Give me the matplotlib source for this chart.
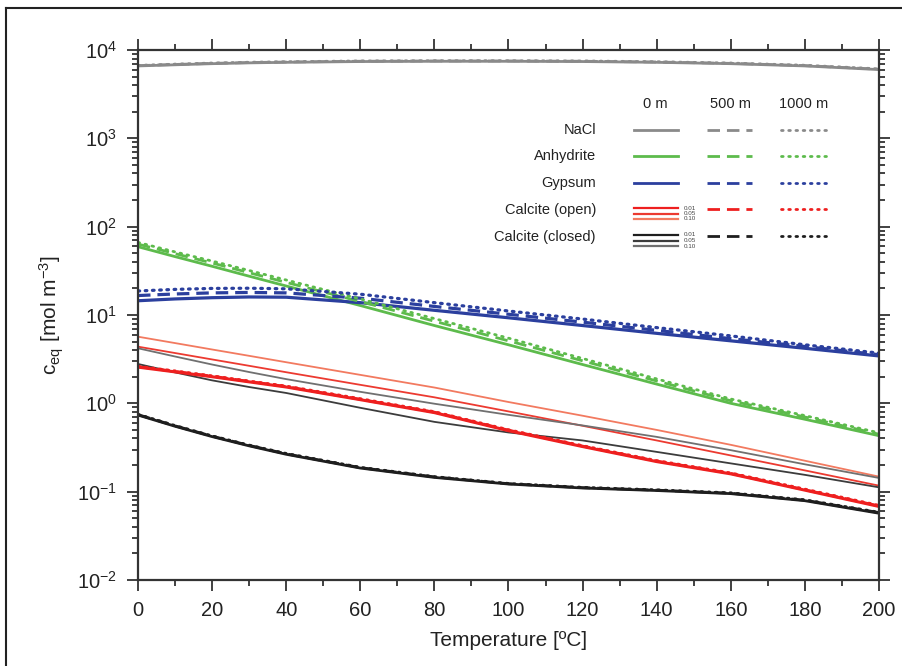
import math

import matplotlib
matplotlib.use("Agg")
import matplotlib.pyplot as plt
from matplotlib.lines import Line2D
from matplotlib.ticker import FixedLocator, FuncFormatter, NullFormatter

plt.rcParams['font.family'] = ['Liberation Sans', 'DejaVu Sans']
plt.rcParams['mathtext.fontset'] = 'custom'
plt.rcParams['mathtext.rm'] = 'Liberation Sans'
plt.rcParams['mathtext.it'] = 'Liberation Sans:italic'
plt.rcParams['lines.scale_dashes'] = False

# temperature grid [deg C]
T = [0, 10, 20, 30, 40, 60, 80, 100, 120, 140, 160, 180, 200]

# equilibrium concentrations [mol m^-3], 0 m / 500 m / 1000 m
nacl_0 = [6600, 6800, 7000, 7150, 7250, 7400, 7450, 7450, 7400, 7250, 7000, 6600, 6000]
nacl_500 = [6650, 6860, 7060, 7210, 7310, 7460, 7510, 7510, 7460, 7310, 7060, 6660, 6060]
nacl_1000 = [6700, 6920, 7120, 7270, 7370, 7520, 7570, 7570, 7520, 7370, 7120, 6720, 6120]

anhy_0 = [59.3, 45.8, 35.6, 27.5, 21.3, 12.8, 7.6, 4.6, 2.75, 1.65, 1.0, 0.66, 0.43]
anhy_500 = [63.5, 49.5, 38.8, 30.1, 23.4, 14.2, 8.5, 5.1, 3.03, 1.79, 1.07, 0.70, 0.447]
anhy_1000 = [66.4, 51.8, 40.8, 31.9, 24.9, 15.2, 9.1, 5.47, 3.22, 1.89, 1.12, 0.726, 0.464]

gyps_0 = [14.5, 15.2, 15.7, 16.0, 15.9, 13.8, 11.3, 9.3, 7.6, 6.2, 5.1, 4.2, 3.44]
gyps_500 = [16.6, 17.3, 17.8, 18.0, 17.8, 15.5, 12.5, 10.2, 8.3, 6.7, 5.4, 4.4, 3.55]
gyps_1000 = [18.7, 19.5, 20.0, 20.1, 19.8, 17.2, 13.8, 11.1, 9.0, 7.2, 5.8, 4.6, 3.7]

# calcite, open system, pCO2 = 0.01 / 0.05 / 0.10
calo_001 = [2.57, 2.27, 2.0, 1.75, 1.53, 1.10, 0.785, 0.49, 0.324, 0.219, 0.159, 0.104, 0.068]
calo_001_500 = [2.6, 2.3, 2.03, 1.77, 1.55, 1.11, 0.795, 0.497, 0.328, 0.222, 0.161, 0.105, 0.069]
calo_001_1000 = [2.63, 2.33, 2.05, 1.79, 1.57, 1.13, 0.805, 0.503, 0.332, 0.225, 0.163, 0.107, 0.070]
calo_005 = [4.38, 3.71, 3.14, 2.66, 2.25, 1.62, 1.17, 0.81, 0.557, 0.38, 0.257, 0.174, 0.117]
calo_010 = [5.68, 4.81, 4.07, 3.45, 2.92, 2.10, 1.51, 1.035, 0.724, 0.50, 0.339, 0.224, 0.148]

# calcite, closed system
calc_001 = [0.737, 0.55, 0.42, 0.33, 0.265, 0.185, 0.145, 0.122, 0.11, 0.103, 0.095, 0.079, 0.057]
calc_001_500 = [0.745, 0.556, 0.425, 0.334, 0.268, 0.187, 0.147, 0.123, 0.111, 0.104, 0.096, 0.080, 0.058]
calc_001_1000 = [0.752, 0.561, 0.429, 0.337, 0.271, 0.189, 0.148, 0.124, 0.112, 0.105, 0.097, 0.081, 0.0585]
calc_005 = [2.79, 2.24, 1.82, 1.53, 1.31, 0.89, 0.617, 0.468, 0.38, 0.282, 0.209, 0.155, 0.112]
calc_010 = [4.2, 3.39, 2.75, 2.26, 1.88, 1.35, 0.99, 0.741, 0.562, 0.417, 0.295, 0.204, 0.143]

x_ticks = list(range(0, 201, 20))
y_ticks = [1e-2, 1e-1, 1e0, 1e1, 1e2, 1e3, 1e4]

c_nacl = '#8a8a8a'
c_anhy = '#5dbb4c'
c_gyps = '#2b3f9e'
c_red1 = '#ee1f1f'
c_red2 = '#ec3a30'
c_red3 = '#f27a60'
c_blk1 = '#1e1e1e'
c_blk2 = '#3c3c3c'
c_blk3 = '#707070'
DASH = (9, 5)
DOT = (1.2, 4)
txt = '#222222'

fig = plt.figure(figsize=(9.03, 6.66), dpi=100)
W, H = 903.0, 666.0
ax = fig.add_axes([138 / W, 1 - 580 / H, 741 / W, 530 / H])

# thin curves first
ax.plot(T, calo_010, color=c_red3, lw=1.3)
ax.plot(T, calo_005, color=c_red2, lw=1.3)
ax.plot(T, calc_010, color=c_blk3, lw=1.3)
ax.plot(T, calc_005, color=c_blk2, lw=1.3)

for ys, col, lw in [(nacl_0, c_nacl, 2), (anhy_0, c_anhy, 2), (gyps_0, c_gyps, 2.3),
                    (calo_001, c_red1, 2.2), (calc_001, c_blk1, 2)]:
    ax.plot(T, ys, color=col, lw=lw, solid_capstyle='butt')
for ys, col, lw in [(nacl_500, c_nacl, 2), (anhy_500, c_anhy, 2), (gyps_500, c_gyps, 2.3),
                    (calo_001_500, c_red1, 2), (calc_001_500, c_blk1, 2)]:
    ax.plot(T, ys, color=col, lw=lw, dashes=DASH)
for ys, col, lw in [(nacl_1000, c_nacl, 2), (anhy_1000, c_anhy, 2), (gyps_1000, c_gyps, 2.3),
                    (calo_001_1000, c_red1, 2), (calc_001_1000, c_blk1, 2)]:
    ax.plot(T, ys, color=col, lw=lw, dashes=DOT, dash_capstyle='round')

ax.set_yscale('log')
ax.set_xlim(0, 200)
ax.set_ylim(1e-2, 1e4)
ax.xaxis.set_major_locator(FixedLocator(x_ticks))
ax.xaxis.set_minor_locator(FixedLocator([t + 10 for t in x_ticks[:-1]]))
ax.yaxis.set_major_locator(FixedLocator(y_ticks))
ax.yaxis.set_minor_locator(FixedLocator([k * d for d in y_ticks[:-1] for k in range(2, 10)]))
ax.yaxis.set_minor_formatter(NullFormatter())
ax.yaxis.set_major_formatter(FuncFormatter(lambda v, p: r'$10^{%d}$' % round(math.log10(v))))
ax.tick_params(which='both', direction='out', top=True, right=True, colors='#333333',
               labelcolor=txt, labelsize=14.5, width=1.3)
ax.tick_params(which='major', length=8, pad=7)
ax.tick_params(which='minor', length=4.3)
for s in ax.spines.values():
    s.set_linewidth(1.6)
    s.set_color('#333333')

ax.set_xlabel('Temperature [ºC]', fontsize=15, color=txt, labelpad=8)
ax.set_ylabel(r'c$_{\rm eq}$ [mol m$^{-3}$]', fontsize=15, color=txt, labelpad=8)


# legend table, positions in figure pixels
def fx(x):
    return x / W


def fy(y):
    return 1 - y / H


def seg(x0, x1, y, col, lw=2.0, **kw):
    fig.add_artist(Line2D([fx(x0), fx(x1)], [fy(y), fy(y)], color=col, lw=lw, **kw))


for xc, lab in [(655, '0 m'), (730, '500 m'), (804, '1000 m')]:
    fig.text(fx(xc), fy(104), lab, ha='center', va='center', fontsize=10.5, color=txt)

rows = [('NaCl', 130, c_nacl), ('Anhydrite', 156, c_anhy), ('Gypsum', 183, c_gyps)]
for lab, y, col in rows:
    fig.text(fx(596), fy(y), lab, ha='right', va='center', fontsize=10.5, color=txt)
    seg(634, 678, y, col)
    seg(707, 752, y, col, dashes=DASH)
    seg(781, 827, y, col, dashes=DOT, dash_capstyle='round')

for lab, y, cols in [('Calcite (open)', 210, (c_red1, c_red2, c_red3)),
                     ('Calcite (closed)', 237, (c_blk1, c_blk2, c_blk3))]:
    fig.text(fx(596), fy(y), lab, ha='right', va='center', fontsize=10.5, color=txt)
    for k, (col, pc) in enumerate(zip(cols, ['0.01', '0.05', '0.10'])):
        yy = y - 2 + k * 5.5
        seg(634, 678, yy, col, lw=1.6)
        fig.text(fx(684), fy(yy), pc, ha='left', va='center', fontsize=4.5, color='#444444')
    seg(707, 752, y - 1, cols[0], dashes=DASH)
    seg(781, 827, y - 1, cols[0], dashes=DOT, dash_capstyle='round')

# outer frame (top and left edge)
fig.add_artist(Line2D([fx(6), 1], [fy(8), fy(8)], color='#222222', lw=1.5))
fig.add_artist(Line2D([fx(6), fx(6)], [0, fy(8)], color='#222222', lw=1.5))

fig.savefig('out.png', dpi=100)
